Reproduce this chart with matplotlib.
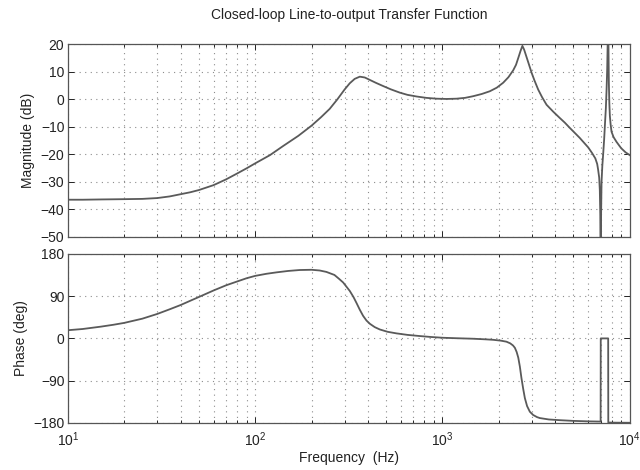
import matplotlib
matplotlib.use("Agg")
import matplotlib.pyplot as plt
from matplotlib.ticker import LogLocator, NullFormatter, FixedLocator

plt.rcParams['font.family'] = ['Liberation Sans', 'DejaVu Sans']

# ---- data ----
mag_freq = [10, 12, 15, 20, 25, 30, 35, 40, 45, 50, 60, 70, 80, 90, 100, 120, 141, 170,
            200, 225, 250, 275, 300, 320, 340, 362, 385, 410, 440, 482, 530, 592, 650,
            727, 820, 930, 1050, 1188, 1320, 1458, 1620, 1790, 1950, 2110, 2250, 2386,
            2470, 2540, 2610, 2672, 2730, 2800, 2900, 2993, 3100, 3245, 3400, 3595,
            3900, 4230, 4500, 4800, 5100, 5400, 5700, 6000, 6300, 6550, 6700, 6775,
            6868, 6920, 6960, 7000, 7030, 7069, 7140, 7211, 7300, 7380, 7455, 7520,
            7579, 7630, 7674, 7700, 7734, 7780, 7830, 7900, 7992, 8200, 8500, 9000,
            9500, 10000]
mag_db = [-36.5, -36.5, -36.4, -36.3, -36.2, -35.9, -35.3, -34.5, -33.8, -33.0, -31.2,
          -29.1, -27.0, -25.1, -23.3, -20.3, -17.0, -13.3, -9.6, -6.5, -3.5, 0.0, 3.5,
          5.8, 7.4, 8.2, 7.9, 7.0, 6.0, 4.8, 3.6, 2.4, 1.6, 1.0, 0.5, 0.2, 0.1, 0.2,
          0.5, 1.1, 1.9, 2.9, 4.2, 6.0, 8.0, 10.5, 12.5, 15.0, 17.5, 19.4, 18.0, 15.7,
          12.5, 9.6, 6.8, 3.5, 0.8, -2.0, -4.5, -6.8, -8.5, -10.5, -12.3, -14.0, -15.8,
          -17.5, -19.6, -21.5, -23.5, -25.5, -28.5, -33.0, -42.0, -70.0, -42.0, -30.0,
          -24.0, -20.0, -14.5, -8.5, -3.2, 3.5, 11.2, 22.0, 40.0, 18.0, 6.0, -1.5, -6.0,
          -9.0, -11.8, -13.8, -15.5, -17.8, -19.3, -20.3]

ph_freq = [10, 12, 15, 17.5, 20, 25, 30, 35, 40, 45, 50, 60, 70, 80, 90, 100, 115, 130,
           150, 173, 200, 221, 240, 265, 280, 295, 320, 335, 348, 362, 377, 393, 410,
           435, 463, 510, 568, 650, 757, 870, 1000, 1200, 1458, 1700, 1866, 2050, 2196,
           2300, 2380, 2436, 2490, 2540, 2590, 2640, 2700, 2754, 2830, 2928, 3050, 3200,
           3311, 3700, 4230, 5000, 6000, 6990, 7000, 7670, 7680, 8500, 10000]
ph_deg = [17.4, 20, 25, 29, 33, 42, 52, 62, 71, 80, 88, 102, 113, 121, 128, 133, 137.5,
          140.5, 143.5, 145.5, 146, 144.5, 141.5, 135, 127, 119, 101, 88, 75, 61, 48,
          38, 31, 24, 19, 14, 10.7, 7.5, 5, 3, 1.4, 0.3, -0.7, -2, -3, -4.8, -7, -10.5,
          -15, -20, -29, -41, -60, -84, -108, -127, -144, -156, -163, -167.5, -169.5,
          -172.5, -174, -175.5, -176.5, -177, 0, 0, -179, -179.3, -179.5]

mag_ticks = [-50, -40, -30, -20, -10, 0, 10, 20]
ph_ticks = [-180, -90, 0, 90, 180]
freq_ticks = [10, 100, 1000, 10000]

line_color = '#5a5a5a'
grid_color = '#8c8c8c'
fs = 10

fig = plt.figure(figsize=(6.4, 4.7), dpi=100)
ax1 = fig.add_axes([0.106, 0.496, 0.878, 0.410])
ax2 = fig.add_axes([0.106, 0.100, 0.878, 0.360])

for ax in (ax1, ax2):
    ax.set_xscale('log')
    ax.set_xlim(10, 10000)
    ax.xaxis.set_major_locator(FixedLocator(freq_ticks))
    ax.xaxis.set_minor_locator(LogLocator(base=10, subs=range(2, 10), numticks=20))
    ax.xaxis.set_minor_formatter(NullFormatter())
    ax.grid(True, which='major', linestyle=(0, (1, 4)), color=grid_color, linewidth=0.8)
    ax.grid(True, which='minor', axis='x', linestyle=(0, (1, 4)), color=grid_color, linewidth=0.8)
    ax.tick_params(which='both', direction='in', top=True, right=True,
                   labelsize=fs, colors='#222222', width=0.7, pad=2.5)
    ax.tick_params(which='major', length=4)
    ax.tick_params(which='minor', length=2)
    for s in ax.spines.values():
        s.set_color('#555555')
        s.set_linewidth(0.9)

ax1.plot(mag_freq, mag_db, color=line_color, linewidth=1.3)
ax1.set_ylim(-50, 20)
ax1.set_yticks(mag_ticks)
ax1.tick_params(labelbottom=False)
ax1.set_ylabel('Magnitude (dB)', fontsize=fs, color='#222222')
ax1.set_title('Closed-loop Line-to-output Transfer Function', fontsize=fs,
              color='#222222', pad=18)

ax2.plot(ph_freq, ph_deg, color=line_color, linewidth=1.3)
ax2.set_ylim(-180, 180)
ax2.set_yticks(ph_ticks)
ax2.tick_params(axis='x', pad=5)
ax2.set_ylabel('Phase (deg)', fontsize=fs, color='#222222')
ax2.set_xlabel('Frequency  (Hz)', fontsize=fs, color='#222222', labelpad=2)

fig.savefig('out.png', dpi=100)
